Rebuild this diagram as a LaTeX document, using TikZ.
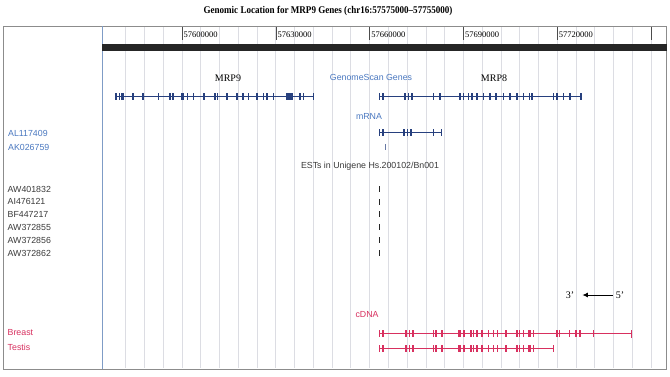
\documentclass[tikz,border=0pt]{standalone}
\usepackage{fontspec}
\setmainfont{Liberation Serif}
\setsansfont{Liberation Sans}
\usetikzlibrary{arrows.meta}
\definecolor{gridc}{HTML}{DCDDE3}
\definecolor{framec}{HTML}{8C8C8C}
\definecolor{divc}{HTML}{7F9CC6}
\definecolor{navy}{HTML}{27407E}
\definecolor{lblue}{HTML}{4A78C0}
\definecolor{cred}{HTML}{D8305F}
\definecolor{estc}{HTML}{3A3A3A}
\newcommand{\trackexons}[3]{%
  \foreach \xx in {#3} \fill[#1] (\xx-0.8,#2-3.8) rectangle (\xx+0.8,#2+3.8);}
\begin{document}
\begin{tikzpicture}[x=1pt,y=-1pt,
  lab/.style={inner sep=0pt, font=\sffamily\fontsize{8.8}{10}\selectfont},
  serlab/.style={inner sep=0pt, font=\fontsize{10}{12}\selectfont},
  rulerlab/.style={inner sep=0pt, anchor=west, font=\fontsize{8.5}{10}\selectfont},
  gridline/.style={draw=gridc, line width=0.7pt},
  trackline/.style={line width=1.2pt}]
\useasboundingbox[fill=white] (0,0) rectangle (670,376);

% grid lines
\foreach \k in {-3,...,25} \draw[gridline] (182+18.76*\k,27) -- (182+18.76*\k,368);

% frame and divider
\draw[framec, line width=0.9pt] (3,26) rectangle (666.5,369);
\draw[divc, line width=0.9pt] (102,26) -- (102,369);

% ruler
\fill[black!85] (102,44) rectangle (666.5,50.5);
\foreach \k/\t in {0/57600000,5/57630000,10/57660000,15/57690000,20/57720000}{
  \draw[black!70, line width=0.6pt] (182+18.76*\k,27) -- (182+18.76*\k,40);
  \node[rulerlab] (r\k) at (182+18.76*\k+1.5,34.5) {\t};
}
\draw[black!70, line width=0.6pt] (651,27) -- (651,40);

% title
\node[inner sep=0pt] (title) at (328,11) {\scalebox{0.88}[1]{\bfseries\fontsize{10.3}{12}\selectfont Genomic Location for MRP9 Genes (chr16:57575000\textendash57755000)}};

% GenomeScan genes
\node[serlab] (mrp9) at (228,78) {MRP9};
\node[lab, text=lblue] (gscan) at (371,77.5) {GenomeScan Genes};
\node[serlab] (mrp8) at (494,78) {MRP8};
\draw[navy, trackline] (116,96.5) -- (313.5,96.5);
\trackexons{navy}{96.5}{116,119.3,121.7,123.3,132.7,142.7,158.3,170,172.7,181.7,183.3,187.3,193.3,204,215,217.3,226.7,236.7,242.7,248.3,256.7,263.3,266.7,273.3,286.7,288.3,290,291.7,300,303.3,313.3}
\draw[navy, trackline] (379.3,96.5) -- (580.7,96.5);
\trackexons{navy}{96.5}{379.3,382.7,405,408.3,411.7,433.3,440,460,463.3,468.3,471.7,476.7,483.3,490,496,503.3,510,516.7,523.3,529.3,531.7,553.3,556.7,563.3,570,580.7}

% mRNA
\node[lab, text=lblue] (mrna) at (369,116) {mRNA};
\draw[navy, trackline] (379.3,132.5) -- (441.5,132.5);
\trackexons{navy}{132.5}{379.3,382.7,404,407.3,411,433.3,441.5}
\fill[navy!70] (384.6,144) rectangle (385.6,150);
\node[lab, text=lblue, anchor=west] (al) at (8,133.5) {AL117409};
\node[lab, text=lblue, anchor=west] (ak) at (8,147.5) {AK026759};

% ESTs
\node[lab, text=estc] (esth) at (370,166.5) {ESTs in Unigene Hs.200102/Bn001};
\foreach \n/\y in {AW401832/189,AI476121/201.5,BF447217/214,AW372855/227,AW372856/240,AW372862/253}{
  \node[lab, text=estc, anchor=west] (e\n) at (7.5,\y) {\n};
  \fill[black!85] (378.6,\y-3) rectangle (379.9,\y+3);
}

% orientation
\node[serlab] (three) at (570,295) {3'};
\node[serlab] (five) at (620,295) {5'};
\draw[-{Latex[length=5.5pt,width=5pt]}, line width=1pt] (five.west) ++(-3,0) coordinate (fs) (fs) -- ([xshift=8pt]three.east);

% cDNA
\node[lab, text=cred] (cdna) at (367,315) {cDNA};
\node[lab, text=cred, anchor=west] (breast) at (7.5,333) {Breast};
\node[lab, text=cred, anchor=west] (testis) at (7.5,347.5) {Testis};
\draw[cred, trackline] (379.3,333.5) -- (632,333.5);
\trackexons{cred}{333.5}{379.3,382.7,406,409.3,412.7,433.3,436,441.7,458.3,460,464,470.7,473.3,476.7,481.7,488.3,493.3,497.3,506,516.7,519.3,523.3,528.3,530,533.3,556.7,559.3,569.3,576,580,593.3}
\fill[cred] (631.4,329.5) rectangle (632.4,337.5);
\draw[cred, trackline] (379.3,348.5) -- (553.5,348.5);
\trackexons{cred}{348.5}{379.3,382.7,406,409.3,412.7,433.3,436,441.7,458.3,460,464,470.7,473.3,476.7,481.7,488.3,493.3,497.3,506,516.7,519.3,523.3,528.3,530,533.3,553.5}
\end{tikzpicture}
\end{document}
